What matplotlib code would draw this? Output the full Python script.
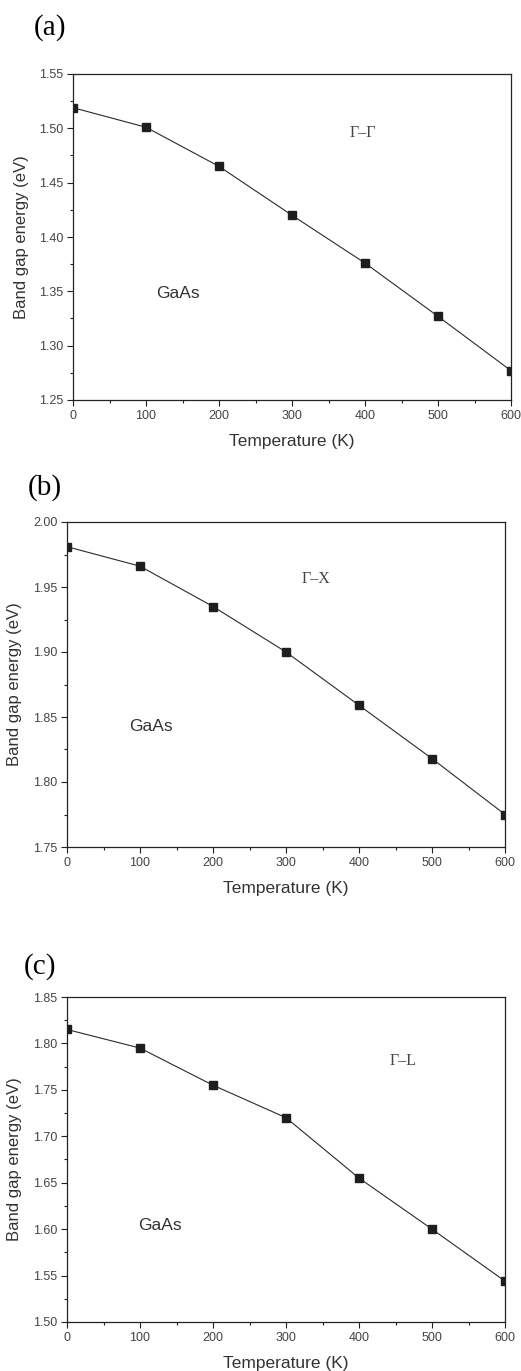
import matplotlib
matplotlib.use("Agg")
import matplotlib.pyplot as plt
from matplotlib.ticker import MultipleLocator

plt.rcParams['font.family'] = ['Liberation Sans', 'DejaVu Sans']

# data
temps = [0, 100, 200, 300, 400, 500, 600]
gap_gg = [1.519, 1.501, 1.465, 1.420, 1.376, 1.327, 1.277]
gap_gx = [1.981, 1.966, 1.935, 1.900, 1.859, 1.818, 1.775]
gap_gl = [1.815, 1.795, 1.755, 1.720, 1.655, 1.600, 1.544]

panel_tags = ["(a)", "(b)", "(c)"]
transitions = ["\u0393\u2013\u0393", "\u0393\u2013X", "\u0393\u2013L"]

W, H = 521, 1371
fig = plt.figure(figsize=(W / 100, H / 100), dpi=100)

def px_axes(left, top, right, bottom):
    return fig.add_axes([left / W, 1 - bottom / H, (right - left) / W, (bottom - top) / H])

def panel(ax, y, ylim, gaas_pos, trans, tag, tag_y, ylab_x):
    ax.plot(temps, y, color='#2a2a2a', lw=0.8, marker='s', ms=5.5,
            mfc='#1e1e1e', mec='#1e1e1e')
    ax.set_xlim(0, 600)
    ax.set_ylim(*ylim)
    ax.xaxis.set_major_locator(MultipleLocator(100))
    ax.xaxis.set_minor_locator(MultipleLocator(50))
    ax.yaxis.set_major_locator(MultipleLocator(0.05))
    ax.yaxis.set_minor_locator(MultipleLocator(0.025))
    ax.yaxis.set_major_formatter(plt.FormatStrFormatter('%.2f'))
    ax.tick_params(which='both', direction='out', top=False, right=False,
                   colors='#222222', labelcolor='#444444', labelsize=9)
    ax.tick_params(which='major', length=4, width=0.8, pad=3)
    ax.tick_params(which='minor', length=2.5, width=0.8)
    for s in ax.spines.values():
        s.set_color('#222222')
        s.set_linewidth(0.9)
    ax.set_xlabel('Temperature (K)', fontsize=12.5, color='#333333', labelpad=9)
    ax.set_ylabel('Band gap energy (eV)', fontsize=12, color='#333333')
    ax.yaxis.set_label_coords(ylab_x, 0.5)
    ax.text(gaas_pos[0], gaas_pos[1], 'GaAs', fontsize=12.5, color='#333333',
            ha='center', va='center')
    ax.text(trans[0], trans[1], trans[2], fontsize=11.5, color='#444444',
            ha='center', va='center', family='Liberation Serif')
    fig.text(tag[0] / W, 1 - tag_y / H, tag[1], fontsize=21,
             family='Liberation Serif', ha='left', va='center')

ax_a = px_axes(73, 74, 511, 400)
panel(ax_a, gap_gg, (1.25, 1.55), (144, 1.348), (397, 1.496, transitions[0]),
      (34, panel_tags[0]), 28, -0.100)

ax_b = px_axes(67, 522, 505, 847)
panel(ax_b, gap_gx, (1.75, 2.00), (115, 1.843), (341, 1.956, transitions[1]),
      (28, panel_tags[1]), 488, -0.103)

ax_c = px_axes(67, 997, 505, 1322)
panel(ax_c, gap_gl, (1.50, 1.85), (127, 1.604), (460, 1.781, transitions[2]),
      (24, panel_tags[2]), 967, -0.103)

fig.savefig('out.png', dpi=100)
